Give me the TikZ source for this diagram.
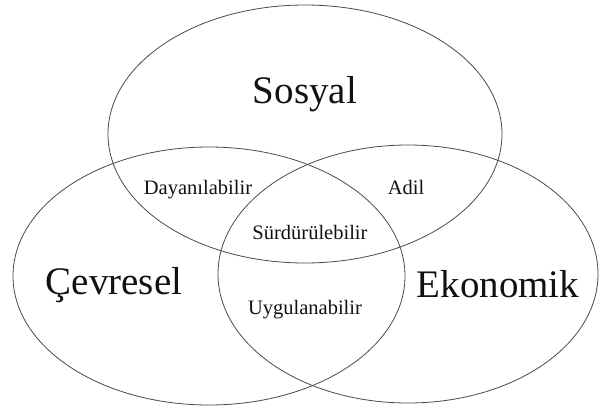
\documentclass[tikz,border=0pt]{standalone}
\usepackage{fontspec}
\setmainfont{Liberation Serif}
\usepackage{xcolor}
\usepackage{tikz}
\definecolor{edgeg}{HTML}{4A4A4A}
\definecolor{inkb}{HTML}{111111}
\tikzset{
  setline/.style={draw=edgeg, line width=0.8pt},
  setlbl/.style={text=inkb, inner sep=0pt, font=\fontsize{39}{41}\selectfont},
  zonelbl/.style={text=inkb, inner sep=0pt, font=\fontsize{20.5}{23}\selectfont}
}
\begin{document}
\begin{tikzpicture}[x=1pt, y=-1pt]
  \useasboundingbox (0,0) rectangle (600,410);
  % the three sets
  \draw[setline] (305,134) ellipse [x radius=197, y radius=129];
  \draw[setline] (209,276) ellipse [x radius=196, y radius=129];
  \draw[setline] (408,274) ellipse [x radius=190, y radius=129];
  % set names
  \node[setlbl] (sosyal) at (305,94) {Sosyal};
  \node[setlbl] (cevre) at (114,285) {Çevresel};
  \node[setlbl] (ekono) at (498,284) {Ekonomik};
  % overlaps
  \node[zonelbl] (dayan) at (198,190) {Dayanılabilir};
  \node[zonelbl] (adil) at (406,187) {Adil};
  \node[zonelbl] (surd) at (310,232) {Sürdürülebilir};
  \node[zonelbl] (uygul) at (305,310) {Uygulanabilir};
\end{tikzpicture}
\end{document}
